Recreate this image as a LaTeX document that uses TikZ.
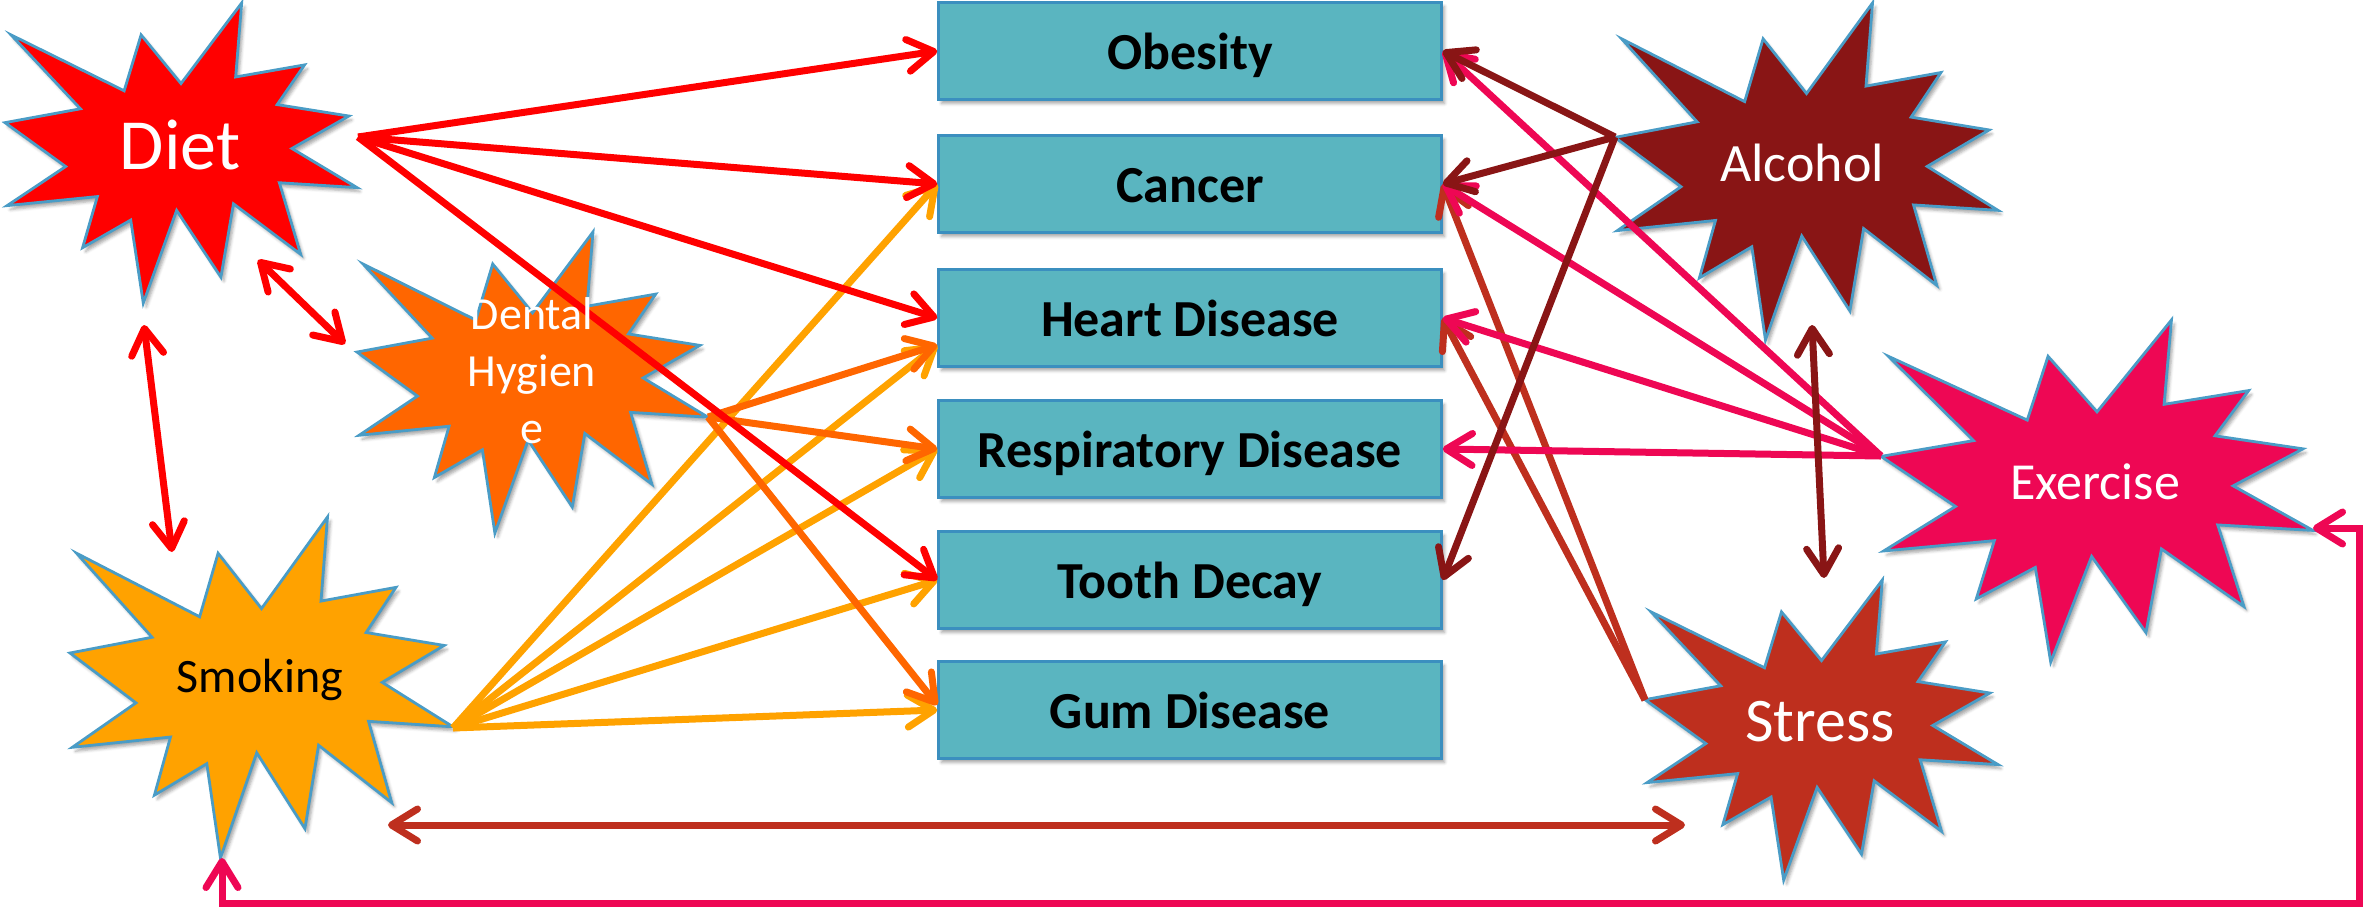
\documentclass[tikz,border=0pt]{standalone}
\usepackage{fontspec}
\setmainfont{Carlito}
\usetikzlibrary{arrows.meta,shadows.blur,calc}
\definecolor{boxfill}{HTML}{5AB5C0}
\definecolor{boxline}{HTML}{3B8FBF}
\definecolor{sealline}{HTML}{4A9CC6}
\definecolor{cDiet}{HTML}{FF0000}
\definecolor{cDental}{HTML}{FF6600}
\definecolor{cSmoke}{HTML}{FFA200}
\definecolor{cAlc}{HTML}{891515}
\definecolor{cEx}{HTML}{EE0754}
\definecolor{cStress}{HTML}{BE2F1E}
\tikzset{
  shad/.style={blur shadow={shadow xshift=3pt, shadow yshift=-4pt, shadow blur radius=3pt, shadow opacity=35}},
  disease/.style={draw=boxline, line width=2.5pt, fill=boxfill, minimum width=503pt, minimum height=97pt,
    inner sep=0pt, text height=36pt, text depth=0pt, font=\fontsize{52}{62}\selectfont\bfseries, shad},
  startext/.style={inner sep=0pt, text=white, align=center},
  barb/.tip={Straight Barb[length=26pt,width=32pt,round]},
  link/.style={line width=7pt, -barb},
  dlink/.style={line width=7pt, barb-barb},
  sealp/.style={insert path={(.5,.26852) -- (.67231,0) -- (.65532,.24653) -- (.85093,.20634) -- (.77324,.33866) -- (.97671,.37671) -- (.81514,.48495) -- (1,.61528) -- (.77949,.59917) -- (.84005,.83773) -- (.64907,.66931) -- (.61329,.91375) -- (.48759,.69144) -- (.39282,1) -- (.35718,.72347) -- (.22046,.81560) -- (.26236,.64523) -- (.00625,.67532) -- (.17231,.54514) -- (0,.39884) -- (.21421,.35264) -- (.01713,.10625) -- (.33852,.29259) -- (.38667,.10625) -- cycle}},
}
\newcommand{\sealshape}[5]{%
  \begin{scope}[shift={(#1pt,-#2pt)}, x=#3pt, y=-#4pt]
    \path[fill=#5, draw=sealline, line width=2.8pt, line join=miter, shad, sealp];
  \end{scope}}
\begin{document}
\begin{tikzpicture}[x=1pt, y=-1pt]
\useasboundingbox (0,0) rectangle (2366,908);
% stars
\sealshape{5}{3}{352}{300}{cDiet}
\sealshape{357}{232}{351}{301}{cDental}
\sealshape{70}{517}{383}{341}{cSmoke}
\sealshape{1615}{3}{383}{337}{cAlc}
\sealshape{1881}{320}{432}{342}{cEx}
\sealshape{1645}{580}{353}{300}{cStress}
% disease boxes
\node[disease] (obesity) at (1190,51) {Obesity};
\node[disease] (cancer) at (1190,184) {Cancer};
\node[disease] (heart) at (1190,318) {Heart Disease};
\node[disease] (resp) at (1190,449) {Respiratory Disease};
\node[disease] (tooth) at (1190,580) {Tooth Decay};
\node[disease] (gum) at (1190,710) {Gum Disease};
% connection points of the stars
\coordinate (dietR) at (358,137);
\coordinate (dentR) at (708,417);
\coordinate (smokR) at (453,728);
\coordinate (alcL) at (1615,137);
\coordinate (exL) at (1881,456);
\coordinate (stL) at (1645,700);
\coordinate (exR) at (2313,528);
\coordinate (smokB) at (222,858);
\coordinate (loopA) at (2359,903);
\coordinate (dietDn) at (144,325);
\coordinate (smokUp) at (172,552);
\coordinate (dietSE) at (258,260);
\coordinate (dentNW) at (345,344);
\coordinate (alcDn) at (1812,325);
\coordinate (stUp) at (1824,578);
\coordinate (smokSE) at (388,825);
\coordinate (stW) at (1685,825);
\coordinate (heartLow) at ([yshift=-27pt]heart.west);
\coordinate (gumHigh) at ([yshift=5pt]gum.west);
% Smoking
\draw[link, cSmoke] (smokR) -- (cancer.west);
\draw[link, cSmoke] (smokR) -- (heartLow);
\draw[link, cSmoke] (smokR) -- (resp.west);
\draw[link, cSmoke] (smokR) -- (tooth.west);
\draw[link, cSmoke] (smokR) -- (gum.west);
% Dental
\draw[link, cDental] (dentR) -- (heartLow);
\draw[link, cDental] (dentR) -- (resp.west);
\draw[link, cDental] (dentR) -- (gumHigh);
% Diet
\draw[link, cDiet] (dietR) -- (obesity.west);
\draw[link, cDiet] (dietR) -- (cancer.west);
\draw[link, cDiet] (dietR) -- (heart.west);
\draw[link, cDiet] (dietR) -- (tooth.west);
\draw[dlink, cDiet] (dietSE) -- (dentNW);
\draw[dlink, cDiet] (dietDn) -- (smokUp);
% Stress
\draw[link, cStress] (stL) -- (cancer.east);
\draw[link, cStress] (stL) -- (heart.east);
\draw[dlink, cStress] (smokSE) -- (stW);
% Exercise
\draw[link, cEx] (exL) -- (obesity.east);
\draw[link, cEx] (exL) -- (cancer.east);
\draw[link, cEx] (exL) -- (heart.east);
\draw[link, cEx] (exL) -- (resp.east);
\draw[dlink, cEx] (exR) -| (loopA) -| (smokB);
% Alcohol
\draw[link, cAlc] (alcL) -- (obesity.east);
\draw[link, cAlc] (alcL) -- (cancer.east);
\draw[link, cAlc] (alcL) -- (tooth.east);
\draw[dlink, cAlc] (alcDn) -- (stUp);
% star texts
\node[startext, font=\fontsize{72}{86}\selectfont] (diet) at (180,145) {Diet};
\node[startext, font=\fontsize{46}{57}\selectfont] (dental) at (532,371) {Dental\\Hygien\\e};
\node[startext, text=black, font=\fontsize{48}{58}\selectfont] (smoking) at (260,680) {Smoking};
\node[startext, font=\fontsize{54}{65}\selectfont] (alcohol) at (1802,163) {Alcohol};
\node[startext, font=\fontsize{52}{62}\selectfont] (exercise) at (2095,482) {Exercise};
\node[startext, font=\fontsize{62}{74}\selectfont] (stress) at (1820,722) {Stress};
\end{tikzpicture}
\end{document}
